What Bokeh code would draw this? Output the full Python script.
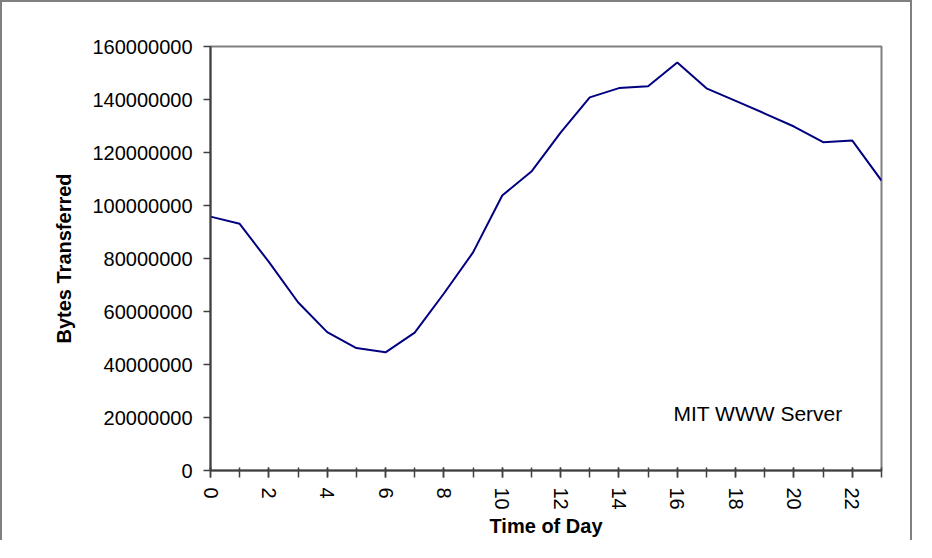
from bokeh.plotting import figure
from bokeh.models import Range1d, FixedTicker, BasicTickFormatter, Label
from bokeh.embed import file_html
from bokeh.resources import INLINE

hours = list(range(24))
bytes_transferred = [95.8e6, 93.1e6, 78.7e6, 63.5e6, 52.2e6, 46.2e6, 44.6e6, 52.0e6,
                     66.8e6, 82.3e6, 103.8e6, 112.8e6, 127.5e6, 140.8e6, 144.3e6, 145.0e6,
                     154.0e6, 144.2e6, 139.5e6, 134.7e6, 129.8e6, 123.9e6, 124.5e6, 109.4e6]
x_major_ticks = list(range(0, 24, 2))
x_minor_ticks = list(range(0, 24))
y_ticks = [0, 20000000, 40000000, 60000000, 80000000, 100000000, 120000000, 140000000, 160000000]

FONT = "Liberation Sans"

p = figure(width=912, height=540, output_backend="svg", toolbar_location=None,
           x_range=Range1d(0, 23), y_range=Range1d(0, 160000000),
           min_border_left=208, min_border_right=33, min_border_top=44, min_border_bottom=72)
p.styles = {"border-left": "2px solid #808080", "border-right": "2px solid #808080",
            "border-top": "2px solid #808080"}
p.background_fill_color = "white"
p.border_fill_color = "white"
p.outline_line_color = "#808080"
p.outline_line_width = 2
p.xgrid.visible = False
p.ygrid.visible = False

p.line(hours, bytes_transferred, line_color="#000080", line_width=2)

xa = p.xaxis[0]
xa.ticker = FixedTicker(ticks=x_major_ticks, minor_ticks=x_minor_ticks)
xa.axis_label = "Time of Day"
xa.major_label_orientation = "vertical"
ya = p.yaxis[0]
ya.ticker = FixedTicker(ticks=y_ticks)
ya.formatter = BasicTickFormatter(use_scientific=False)
ya.axis_label = "Bytes Transferred"

for ax in (xa, ya):
    ax.axis_line_color = "#404040"
    ax.axis_line_width = 2
    ax.major_tick_line_color = "#404040"
    ax.minor_tick_line_color = "#404040"
    ax.major_tick_line_width = 1.5
    ax.minor_tick_line_width = 1.5
    ax.major_label_text_font = FONT
    ax.major_label_text_font_size = "20px"
    ax.major_label_text_color = "black"
    ax.axis_label_text_font = FONT
    ax.axis_label_text_font_size = "20px"
    ax.axis_label_text_font_style = "bold"
    ax.axis_label_text_color = "black"

xa.major_tick_in = 3
xa.major_tick_out = 7
xa.minor_tick_in = 3
xa.minor_tick_out = 7
xa.major_label_standoff = 10
xa.axis_label_standoff = 2
ya.major_tick_in = 0
ya.major_tick_out = 7
ya.minor_tick_line_color = None
ya.major_label_standoff = 11
ya.axis_label_standoff = 14

p.add_layout(Label(x=15.87, y=21500000, text="MIT WWW Server", text_font=FONT,
                   text_font_size="21px", text_color="black", text_baseline="alphabetic"))

open("out.html", "w").write(file_html(p, INLINE))
